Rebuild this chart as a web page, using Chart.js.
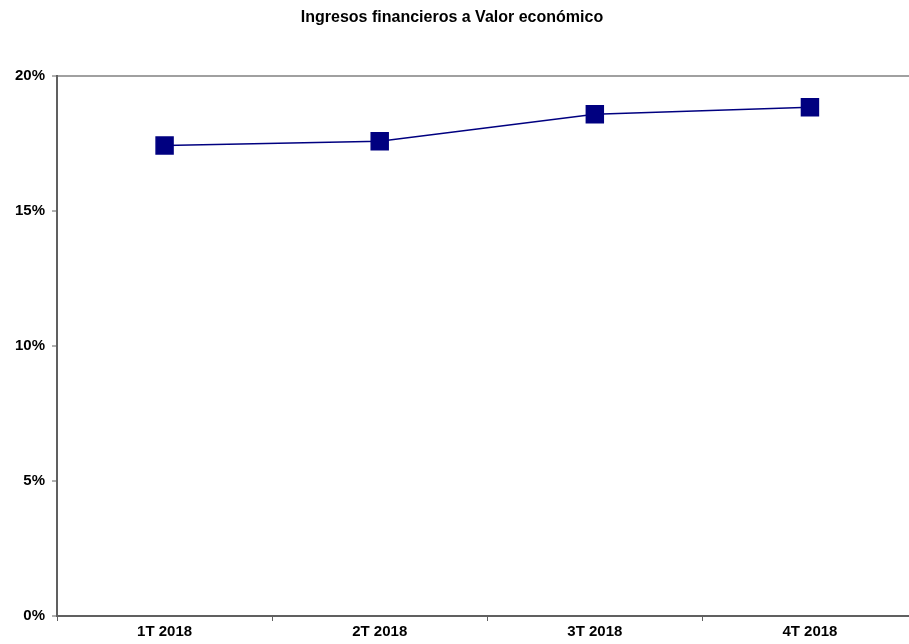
<!DOCTYPE html>
<html>
<head>
<meta charset="utf-8">
<script src="https://cdn.jsdelivr.net/npm/chart.js@4"></script>
<style>
  html, body { margin: 0; padding: 0; background: #fff; overflow: hidden; }
  #wrap { position: relative; width: 931px; height: 644px; }
  #titulo {
    position: absolute; left: 0; top: 8px; width: 904px; text-align: center;
    font: bold 16px 'Liberation Sans', Arial, sans-serif; color: #000;
  }
</style>
</head>
<body>
<div id="wrap">
  <div id="titulo">Ingresos financieros a Valor económico</div>
  <canvas id="myChart" width="931" height="644"></canvas>
</div>
<script>
// datos
const trimestres = ['1T 2018', '2T 2018', '3T 2018', '4T 2018'];
const ingresos = [17.43, 17.58, 18.58, 18.84];
const ticksY = [0, 5, 10, 15, 20];

const ctx = document.getElementById('myChart').getContext('2d');

new Chart(ctx, {
  type: 'line',
  data: {
    labels: trimestres,
    datasets: [{
      label: 'Ingresos financieros a Valor económico',
      data: ingresos,
      borderColor: '#000080',
      backgroundColor: '#000080',
      borderWidth: 1.5,
      pointStyle: 'rect',
      pointRadius: 12,
      pointHoverRadius: 12,
      tension: 0
    }]
  },
  options: {
    responsive: false,
    animation: false,
    layout: { padding: { left: 8, top: 76, right: 0, bottom: 1 } },
    plugins: {
      legend: { display: false },
      tooltip: { enabled: false }
    },
    scales: {
      x: {
        offset: true,
        border: { color: '#606060', width: 2 },
        grid: { offset: true, drawOnChartArea: false, tickLength: 5, color: '#606060' },
        ticks: { color: '#000', font: { family: 'Liberation Sans', size: 15, weight: 'bold' }, padding: 2 }
      },
      y: {
        min: 0,
        max: 20,
        afterBuildTicks: (axis) => { axis.ticks = ticksY.map(v => ({ value: v })); },
        border: { color: '#606060', width: 2 },
        grid: {
          color: (c) => c.tick && c.tick.value === 20 ? '#a0a0a0' : 'rgba(0,0,0,0)',
          lineWidth: 2,
          tickLength: 5,
          tickColor: '#606060',
          tickWidth: 1
        },
        ticks: {
          color: '#000',
          padding: 7,
          font: { family: 'Liberation Sans', size: 15, weight: 'bold' },
          callback: (v) => v + '%'
        }
      }
    }
  }
});
</script>
</body>
</html>
